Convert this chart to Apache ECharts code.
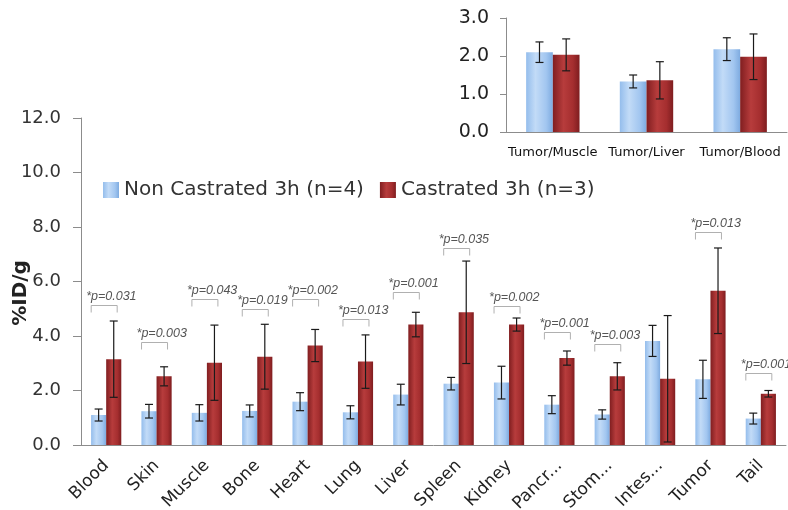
<!DOCTYPE html>
<html>
<head>
<meta charset="utf-8">
<script src="https://cdn.jsdelivr.net/npm/echarts@6/dist/echarts.min.js"></script>
<style>
  html, body { margin: 0; padding: 0; background: #ffffff; }
  #chart { width: 788px; height: 510px; }
</style>
</head>
<body>
<div id="chart"></div>
<script>
// Biodistribution (%ID/g) per organ
const categories = ['Blood', 'Skin', 'Muscle', 'Bone', 'Heart', 'Lung', 'Liver', 'Spleen',
  'Kidney', 'Pancr...', 'Stom...', 'Intes...', 'Tumor', 'Tail'];
const nonCastrated   = [1.10, 1.24, 1.18, 1.25, 1.59, 1.20, 1.85, 2.25, 2.29, 1.48, 1.12, 3.82, 2.41, 0.97];
const nonCastratedSD = [0.22, 0.25, 0.30, 0.22, 0.33, 0.24, 0.38, 0.23, 0.60, 0.33, 0.17, 0.57, 0.70, 0.20];
const castrated      = [3.15, 2.52, 3.02, 3.24, 3.65, 3.06, 4.42, 4.87, 4.42, 3.19, 2.52, 2.43, 5.66, 1.88];
const castratedSD    = [1.40, 0.35, 1.38, 1.19, 0.59, 0.98, 0.45, 1.88, 0.24, 0.26, 0.50, 2.32, 1.57, 0.12];

// Significance annotations and the %ID/g level of each bracket
const pLabels = ['*p=0.031', '*p=0.003', '*p=0.043', '*p=0.019', '*p=0.002', '*p=0.013', '*p=0.001',
  '*p=0.035', '*p=0.002', '*p=0.001', '*p=0.003', null, '*p=0.013', '*p=0.001'];
const pLevels = [5.14, 3.79, 5.36, 4.98, 5.36, 4.62, 5.60, 7.24, 5.11, 4.13, 3.71, null, 7.80, 2.65];

// Tumor-to-tissue ratios
const ratioCategories = ['Tumor/Muscle', 'Tumor/Liver', 'Tumor/Blood'];
const ratioNon   = [2.10, 1.33, 2.18];
const ratioNonSD = [0.27, 0.17, 0.30];
const ratioCas   = [2.03, 1.36, 1.98];
const ratioCasSD = [0.42, 0.49, 0.60];

const mainTicks = [0, 2, 4, 6, 8, 10, 12];
const ratioTicks = [0, 1, 2, 3];

const seriesNames = ['Non Castrated 3h (n=4)', 'Castrated 3h (n=3)'];

const FONT = 'DejaVu Sans';
const NOTE_FONT = 'Liberation Sans';
const AXIS_GRAY = '#8c8c8c';

const blueFill = {
  type: 'linear', x: 0, y: 0, x2: 1, y2: 0,
  colorStops: [
    { offset: 0, color: '#94bdec' },
    { offset: 0.35, color: '#c2dbf7' },
    { offset: 0.75, color: '#a2c6f0' },
    { offset: 1, color: '#7eabe0' }
  ]
};
const redFill = {
  type: 'linear', x: 0, y: 0, x2: 1, y2: 0,
  colorStops: [
    { offset: 0, color: '#801e20' },
    { offset: 0.4, color: '#b73c3c' },
    { offset: 0.75, color: '#a52e2f' },
    { offset: 1, color: '#7e1d1f' }
  ]
};

// Error bars drawn around each bar of a grouped pair (side -1 left, +1 right)
function errorBars(side, barFrac, capHalf) {
  return function (params, api) {
    const idx = api.value(0);
    const v = api.value(1);
    const sd = api.value(2);
    const band = api.size([1, 0])[0];
    const barW = band * barFrac;
    const x = api.coord([idx, v])[0] + side * barW / 2;
    const yTop = api.coord([idx, v + sd])[1];
    const yBot = api.coord([idx, Math.max(v - sd, 0)])[1];
    const style = { stroke: '#1a1a1a', lineWidth: 1.2 };
    return {
      type: 'group',
      children: [
        { type: 'line', shape: { x1: x, y1: yTop, x2: x, y2: yBot }, style },
        { type: 'line', shape: { x1: x - capHalf, y1: yTop, x2: x + capHalf, y2: yTop }, style },
        { type: 'line', shape: { x1: x - capHalf, y1: yBot, x2: x + capHalf, y2: yBot }, style }
      ]
    };
  };
}

// Bracket with the p-value written above it
function pBracket(params, api) {
  const i = params.dataIndex;
  if (pLabels[i] == null) return null;
  const idx = api.value(0);
  const c = api.coord([idx, api.value(1)]);
  const cx = c[0] - 1, y = Math.round(c[1]) + 0.5;
  const l = cx - 14, r = cx + 12;
  const lineStyle = { stroke: '#b0b0b0', lineWidth: 1 };
  return {
    type: 'group',
    children: [
      { type: 'polyline', shape: { points: [[l, y + 7], [l, y], [r, y], [r, y + 7]] }, style: Object.assign({ fill: null }, lineStyle) },
      {
        type: 'text',
        style: {
          x: cx - 19, y: y - 2,
          text: pLabels[i],
          fill: '#555555',
          font: 'italic 12.5px "' + NOTE_FONT + '"',
          textAlign: 'left', textVerticalAlign: 'bottom'
        }
      }
    ]
  };
}

const chart = echarts.init(document.getElementById('chart'), null, { renderer: 'canvas' });

const option = {
  animation: false,
  backgroundColor: '#ffffff',
  textStyle: { fontFamily: FONT },
  legend: {
    data: seriesNames,
    left: 98, top: 175,
    icon: 'rect',
    itemWidth: 16, itemHeight: 16, itemGap: 16,
    textStyle: { fontSize: 20, color: '#333333', fontFamily: FONT }
  },
  graphic: [{
    type: 'text',
    x: 21, y: 293,
    rotation: Math.PI / 2,
    style: {
      text: '%ID/g',
      font: 'bold 20px "' + FONT + '"',
      fill: '#222222',
      textAlign: 'center', textVerticalAlign: 'middle'
    }
  }],
  grid: [
    { left: 81, right: 2, top: 118, bottom: 65, outerBoundsMode: 'none', containLabel: false },
    { left: 506, right: 1, top: 18, height: 114, outerBoundsMode: 'none', containLabel: false }
  ],
  xAxis: [
    {
      type: 'category', gridIndex: 0, data: categories,
      axisLine: { lineStyle: { color: AXIS_GRAY } },
      axisTick: { length: 6, interval: 0, lineStyle: { color: AXIS_GRAY } },
      axisLabel: { interval: 0, rotate: 45, fontSize: 17, color: '#222222', margin: 18, fontFamily: FONT }
    },
    {
      type: 'category', gridIndex: 1, data: ratioCategories,
      axisLine: { lineStyle: { color: AXIS_GRAY } },
      axisTick: { length: 5, interval: 0, lineStyle: { color: AXIS_GRAY } },
      axisLabel: { interval: 0, fontSize: 13, color: '#111111', margin: 14, fontFamily: FONT }
    }
  ],
  yAxis: [
    {
      type: 'value', gridIndex: 0,
      min: mainTicks[0], max: mainTicks[mainTicks.length - 1], interval: mainTicks[1] - mainTicks[0],
      splitLine: { show: false },
      axisLine: { show: true, lineStyle: { color: AXIS_GRAY } },
      axisTick: { show: true, length: 8, lineStyle: { color: AXIS_GRAY } },
      axisLabel: { fontSize: 18, color: '#333333', margin: 20, formatter: v => v.toFixed(1), fontFamily: FONT }
    },
    {
      type: 'value', gridIndex: 1,
      min: ratioTicks[0], max: ratioTicks[ratioTicks.length - 1], interval: ratioTicks[1] - ratioTicks[0],
      splitLine: { show: false },
      axisLine: { show: true, lineStyle: { color: AXIS_GRAY } },
      axisTick: { show: true, length: 6, lineStyle: { color: AXIS_GRAY } },
      axisLabel: { fontSize: 19, color: '#222222', margin: 17, formatter: v => v.toFixed(1), fontFamily: FONT }
    }
  ],
  series: [
    {
      name: seriesNames[0], type: 'bar', xAxisIndex: 0, yAxisIndex: 0,
      data: nonCastrated, barGap: '0%', barCategoryGap: '40%',
      itemStyle: { color: blueFill }
    },
    {
      name: seriesNames[1], type: 'bar', xAxisIndex: 0, yAxisIndex: 0,
      data: castrated, barGap: '0%', barCategoryGap: '40%',
      itemStyle: { color: redFill }
    },
    {
      type: 'custom', xAxisIndex: 0, yAxisIndex: 0,
      renderItem: errorBars(-1, 0.3, 4),
      data: nonCastrated.map((v, i) => [i, v, nonCastratedSD[i]]),
      encode: { x: 0, y: 1 }, z: 5, silent: true
    },
    {
      type: 'custom', xAxisIndex: 0, yAxisIndex: 0,
      renderItem: errorBars(1, 0.3, 4),
      data: castrated.map((v, i) => [i, v, castratedSD[i]]),
      encode: { x: 0, y: 1 }, z: 5, silent: true
    },
    {
      type: 'custom', xAxisIndex: 0, yAxisIndex: 0,
      renderItem: pBracket,
      data: pLevels.map((v, i) => [i, v == null ? 0 : v]),
      encode: { x: 0, y: 1 }, z: 6, silent: true, clip: false
    },
    {
      name: seriesNames[0], type: 'bar', xAxisIndex: 1, yAxisIndex: 1,
      data: ratioNon, barGap: '0%', barCategoryGap: '43%',
      itemStyle: { color: blueFill }
    },
    {
      name: seriesNames[1], type: 'bar', xAxisIndex: 1, yAxisIndex: 1,
      data: ratioCas, barGap: '0%', barCategoryGap: '43%',
      itemStyle: { color: redFill }
    },
    {
      type: 'custom', xAxisIndex: 1, yAxisIndex: 1,
      renderItem: errorBars(-1, 0.285, 4),
      data: ratioNon.map((v, i) => [i, v, ratioNonSD[i]]),
      encode: { x: 0, y: 1 }, z: 5, silent: true
    },
    {
      type: 'custom', xAxisIndex: 1, yAxisIndex: 1,
      renderItem: errorBars(1, 0.285, 4),
      data: ratioCas.map((v, i) => [i, v, ratioCasSD[i]]),
      encode: { x: 0, y: 1 }, z: 5, silent: true
    }
  ]
};

chart.setOption(option);
</script>
</body>
</html>
